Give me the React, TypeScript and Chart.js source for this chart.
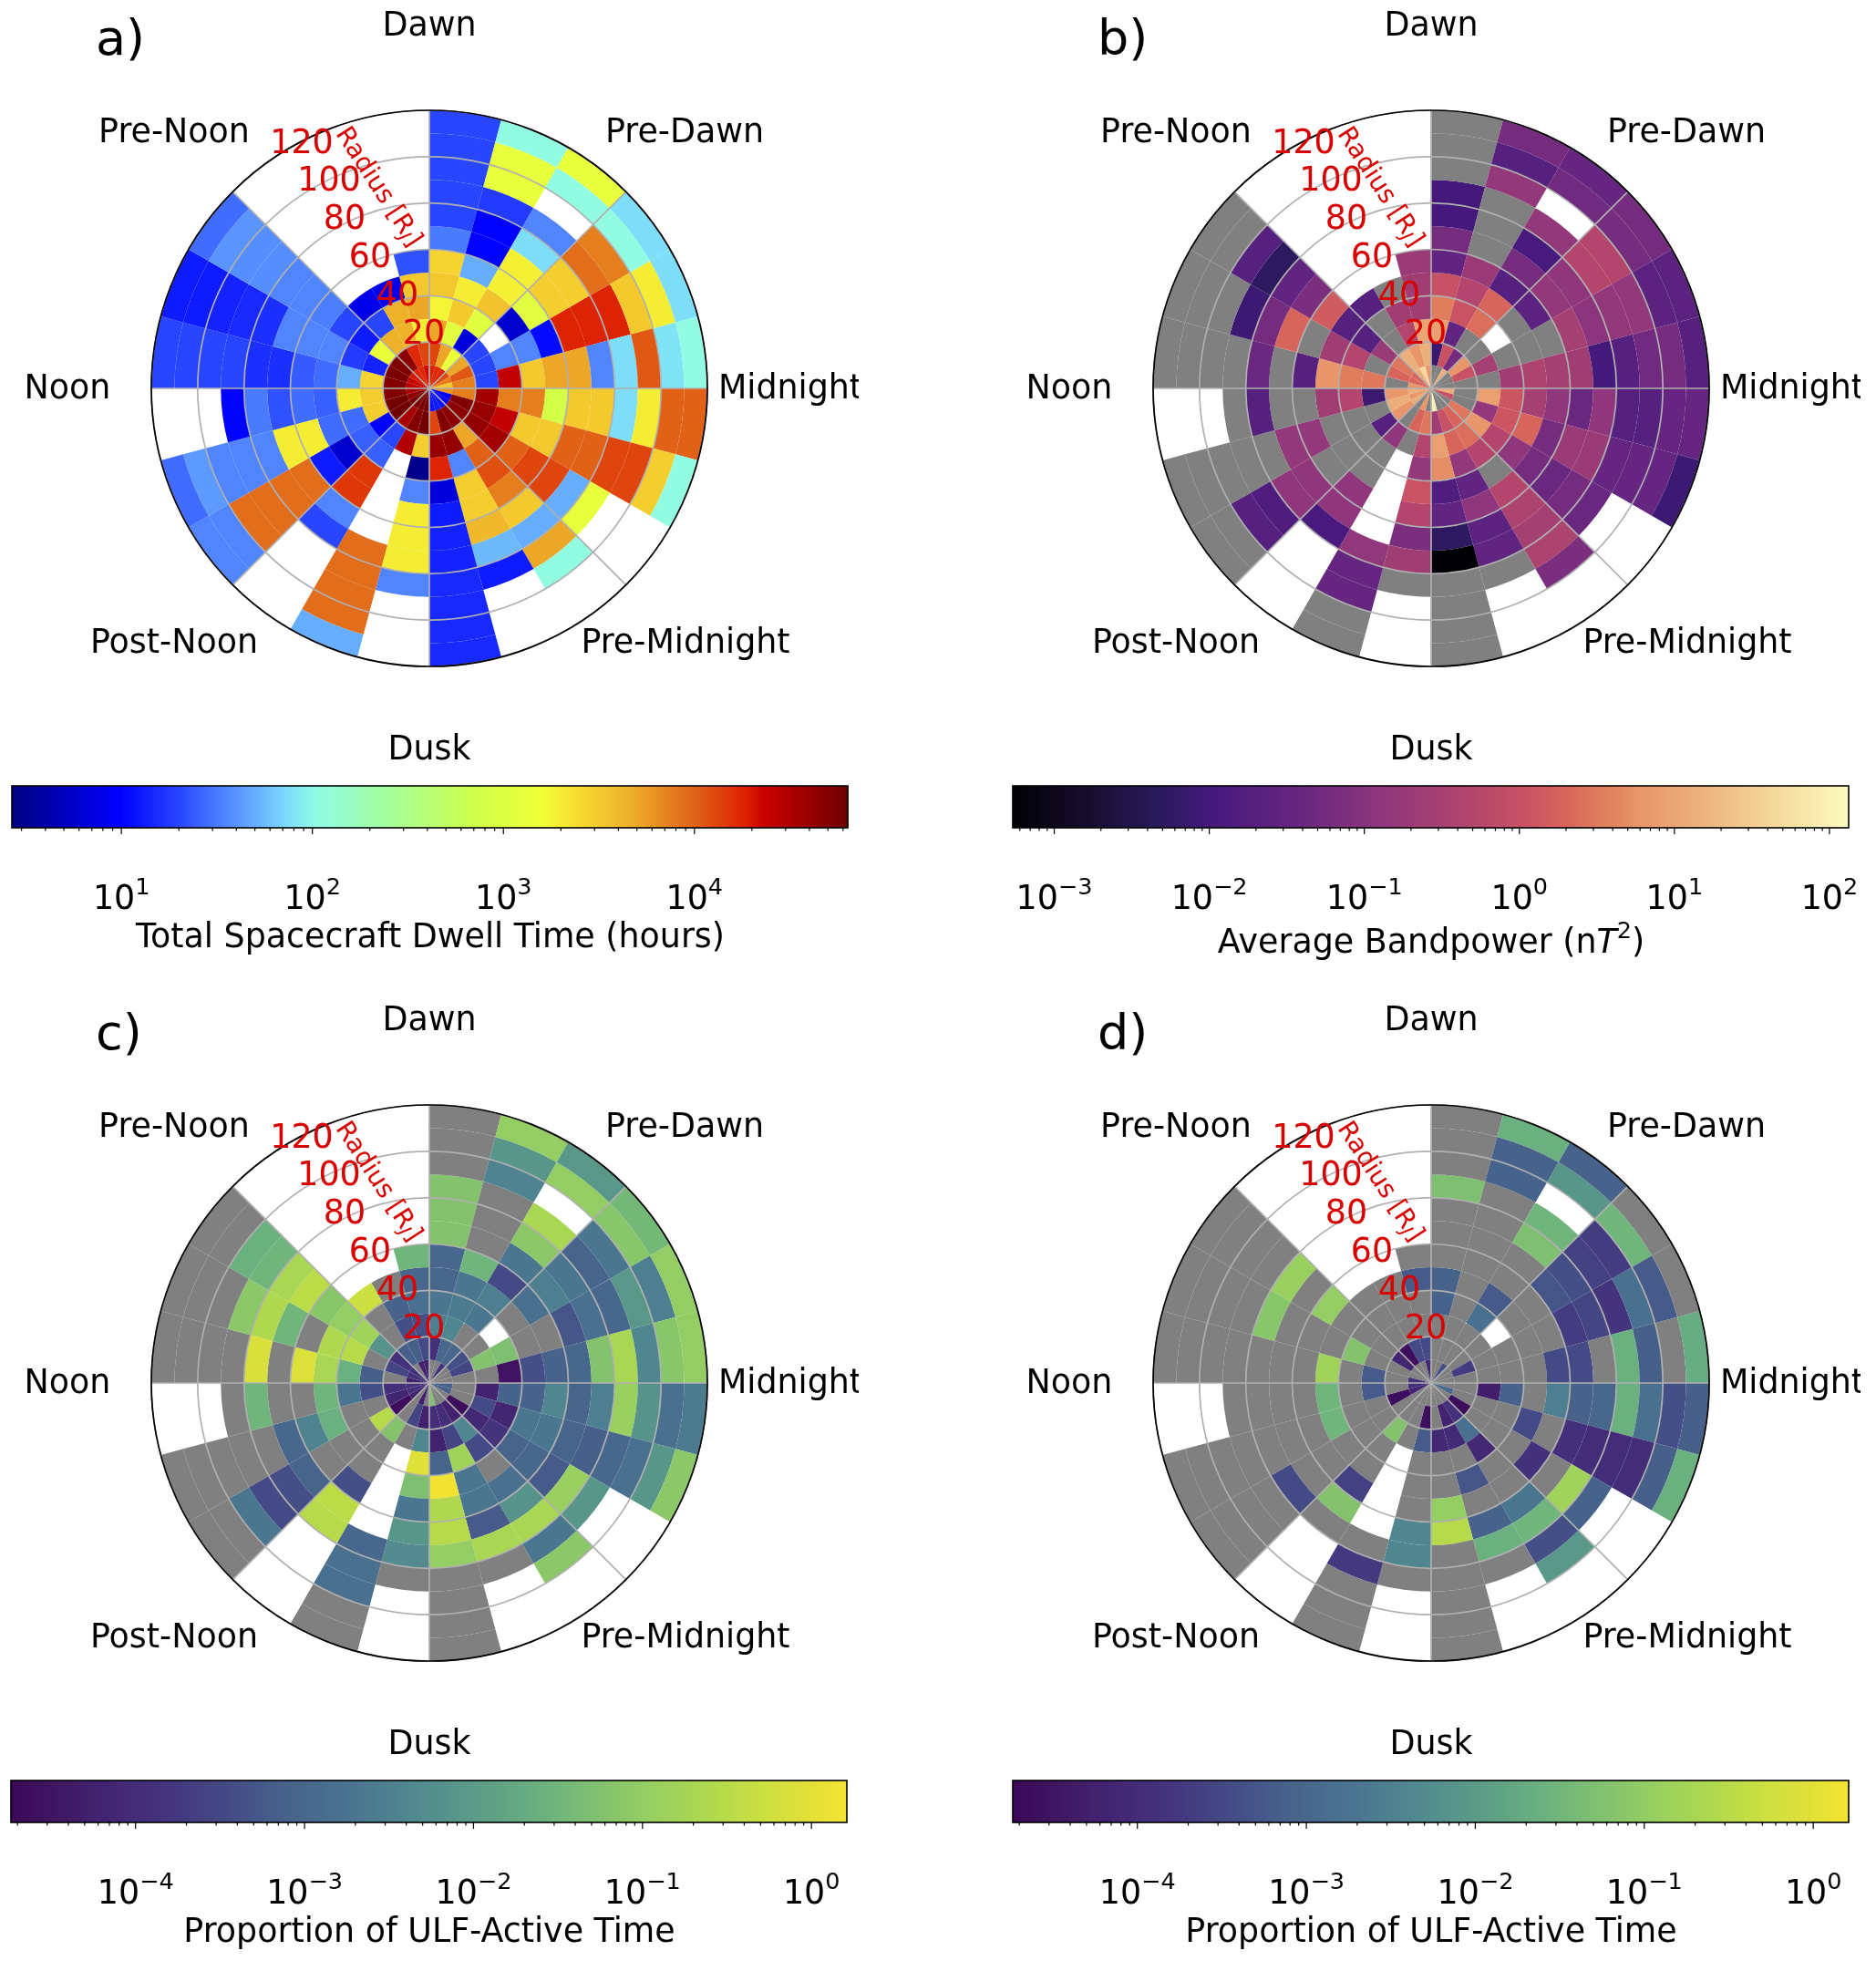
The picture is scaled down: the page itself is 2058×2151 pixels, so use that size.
import React, { useEffect, useRef } from 'react';
import { Chart, registerables } from 'chart.js';

Chart.register(...registerables);

const n = null; // white cell: no spacecraft data. 0 means data but nothing measured (grey)

// every table: one row per 15 degree sector, clockwise from Midnight; one column per 10 R_J ring, inside out
const dwellTime = [
  [6000, 7500, 35000, 7500, 7500, 800, 3200, 3200, 75, 2000, 10000, 10000],
  [9, 50000, 40000, 25000, 3200, 3200, 10000, 10000, 13000, 13000, 3000, 110],
  [10, 45000, 42000, 35000, 10000, 13000, 13000, 50, 1300, n, n, n],
  [12, 45000, 5000, 10000, 12000, 7500, 3200, 50, 5000, 110, n, n],
  [13, 50000, 42000, 35, 3000, 3000, 4000, 55, 13, n, n, n],
  [12, 13000, 40000, 18000, 7, 13, 14, 14, 15, 15, 15, 15],
  [60000, 60000, 3000, 3, 35, 2000, 2000, 2000, 35, n, n, n],
  [55000, 50000, 30000, n, n, n, n, 9000, 9000, 9000, 9000, 50],
  [55000, 33000, 20, 25, 15000, 15000, 35, 20, n, n, n, n],
  [55000, 60000, 10, 25, 6, 13, 9000, 9000, 9000, 9000, 35, 35],
  [45000, 60000, 3000, 28, 28, 2000, 2000, 35, 35, 35, 42, 28],
  [32000, 50000, 3000, 2000, 25, 28, 22, 32, 10, n, n, n],
  [25000, 50000, 2800, 50, 28, 24, 16, 16, 20, 20, 20, 20],
  [24000, 55000, 14, 18, 35, 35, 35, 16, 15, 14, 13, 13],
  [20000, 50000, 1400, 13, 20, 33, 35, 35, 38, 38, 40, 28],
  [18000, 45000, 4500, 20, 8, n, n, n, n, n, n, n],
  [17000, 17000, 4500, 4500, 8, n, n, n, n, n, n, n],
  [22000, 13000, 2000, 5000, 3300, 22, n, n, n, n, n, n],
  [18000, 13000, 5000, 1800, 3300, 2800, 32, 20, 20, 20, 20, 20],
  [17000, 5000, 1100, 3200, 2000, 50, 10, 10, 18, 1300, 1300, 110],
  [18000, 1400, 7, 1100, 3500, 1900, 1900, 75, 35, n, 110, 1300],
  [13000, 5000, 20, n, 6, 1100, 3000, 3000, 9000, 7500, 110, 75],
  [7500, 11000, 20, 35, 35, 11, 18000, 18000, 18000, 3200, 2000, 75],
  [3200, 7500, 20, 25000, 3200, 5000, 5000, 35, 75, 11000, 80, 110],
];

const bandpower = [
  [14, 0, 8, 1.2, 0.3, 0.13, 0.04, 0.13, 0.02, 0.02, 0.035, 0.035],
  [1.05, 0, 0.15, 1.2, 2, 0.06, 0.2, 0.2, 0.035, 0.035, 0.035, 0.008],
  [0, 3, 6, 0.5, 0.13, 0.06, 0.04, 0.06, 0.04, n, n, n],
  [0, 2, 2.5, 0.5, 0, 0.5, 0.4, 0.3, 0.4, 0.07, n, n],
  [0, 1.05, 2, 0.15, 0.03, 0.13, 0.025, 0.03, 0, n, n, n],
  [100, 0.25, 8, 5, 0.015, 0.03, 0.005, 0.00055, 0, 0, 0, 0],
  [0, 3, 0.5, 0.15, 1.1, 0.5, 0.07, 0.25, 0, n, n, n],
  [6, 2, 0, n, n, n, n, 0.14, 0.035, 0.035, 0, 0],
  [0, 0, 0.13, 0, 0, 0.13, 0.13, 0.012, n, n, n, n],
  [14, 6, 0.02, 0, 0, 0, 0.13, 0.13, 0.015, 0.02, 0, 0],
  [6, 14, 0, 0, 0, 0.15, 0.15, 0, 0, 0, 0, 0],
  [14, 6, 0.0075, 0.5, 0.25, 0, 0, 0.02, 0, n, n, n],
  [6, 0, 3, 3.5, 6, 0.02, 0, 0.04, 0, 0, 0, 0],
  [2, 2, 0, 0.5, 0.25, 0, 2, 0.06, 0.008, 0, 0, 0],
  [2, 3, 0.2, 0.02, 0.02, 1.5, 0.07, 0.03, 0.005, 0.02, 0, 0],
  [14, 14, 0, 0, 0.02, n, n, n, n, n, n, n],
  [44, 6, 0.5, 0.25, 0, n, n, n, n, n, n, n],
  [6, 14, 10, 0.25, 0.25, 0.2, n, n, n, n, n, n],
  [0, 0.0075, 8, 3.5, 1, 0.03, 0.06, 0.01, 0.01, 0, 0, 0],
  [0, 1.05, 0.03, 1.1, 0.5, 0.2, 0, 0, 0, 0.15, 0.02, 0.06],
  [14, 0.06, 0, 2.5, 2, 0.02, 0.06, 0.012, 0.15, n, 0.05, 0.035],
  [0, 6, 0, n, 0, 0.025, 0.15, 0.13, 0.5, 0.5, 0.06, 0.06],
  [0, 1.05, 0.3, 0, 0, 0, 0.3, 0.12, 0.15, 0.15, 0.025, 0.025],
  [0, 0, 0, 0.25, 0.4, 0.3, 0.25, 0.01, 0.02, 0.05, 0.06, 0.02],
];

const activeAll = [
  [7e-4, 0, 6e-5, 8e-4, 8e-4, 4e-3, 9e-4, 3e-3, 0.12, 7e-3, 1.5e-3, 2.5e-3],
  [7e-4, 0, 3.5e-4, 7e-5, 2e-3, 2e-3, 9e-4, 7e-4, 1e-3, 1.5e-3, 8e-3, 0.08],
  [0, 2.3e-5, 8e-5, 1.5e-4, 9e-4, 1e-3, 6e-4, 0.12, 8e-3, n, n, n],
  [0, 5.8e-5, 4e-3, 3.5e-4, 0, 1.5e-3, 7e-3, 0.2, 2e-3, 0.08, n, n],
  [0, 1e-4, 3e-4, 0.15, 2e-3, 2e-3, 6e-4, 0.2, 0, n, n, n],
  [0.054, 1.1e-4, 6e-5, 9e-4, 1.5, 0.25, 0.3, 0.1, 0, 0, 0, 0],
  [0, 5.8e-5, 4e-3, 0.9, 0.05, 2e-3, 8e-3, 5e-3, 0, n, n, n],
  [5.8e-5, 3e-4, 0, n, n, n, n, 1e-3, 1.5e-3, 1.5e-3, 0, 0],
  [0, 0, 0.06, 0, 0, 4e-4, 0.35, 0.3, n, n, n, n],
  [5.8e-5, 2.3e-5, 0.3, 0, 0, 0, 9e-4, 4e-4, 3.5e-4, 2e-3, 0, 0],
  [1.3e-4, 7e-5, 0, 0, 0.024, 3.5e-3, 1e-3, 0, 0, 0, 0, 0],
  [1.3e-4, 1.2e-4, 4e-4, 2e-3, 0.03, 0, 0, 0.03, 0, n, n, n],
  [5.8e-5, 0, 7e-4, 0.024, 0.2, 0.8, 0, 0.75, 0, 0, 0, 0],
  [1.3e-4, 3e-4, 0, 0.3, 0.25, 0, 0.03, 0.25, 0.08, 0, 0, 0],
  [1.3e-4, 1.3e-4, 7e-3, 0.15, 0.1, 0.07, 0.35, 0.2, 0.03, 0.025, 0, 0],
  [0, 7e-4, 0, 0, 0.5, n, n, n, n, n, n, n],
  [5.8e-5, 7e-4, 4e-4, 8e-4, 0, n, n, n, n, n, n, n],
  [5.8e-5, 3.5e-4, 4e-4, 1.5e-3, 1e-3, 0.03, n, n, n, n, n, n],
  [0, 1.2e-4, 3e-3, 2e-3, 1e-3, 1e-3, 0.06, 0.06, 0.06, 0, 0, 0],
  [0, 1e-3, 4e-3, 2.5e-3, 2e-3, 0.03, 0, 0, 0, 3.5e-3, 8e-3, 0.1],
  [1.3e-4, 1e-3, 0, 2e-3, 3e-3, 3.5e-4, 2e-3, 0.08, 0.2, n, 0.1, 9e-3],
  [0, 4e-4, 0, n, 0, 1.5e-3, 3e-3, 2e-3, 9e-4, 2e-3, 0.07, 0.035],
  [0, 3e-4, 0.06, 0.05, 0, 0, 5e-4, 1.5e-3, 1e-3, 9e-3, 3e-3, 0.1],
  [0, 0, 0, 3e-5, 4e-4, 8e-4, 1e-3, 0.06, 0.2, 4e-3, 0.07, 0.1],
];

const activeStrict = [
  [0, 0, 5e-5, 8e-4, 0, 3e-3, 8e-4, 1e-3, 0.025, 1.5e-3, 4e-4, 7e-4],
  [1e-3, 0, 0, 0, 3.5e-4, 0, 1.2e-4, 1e-4, 1e-4, 1e-4, 7e-4, 0.025],
  [0, 2.3e-5, 0, 0, 0, 1.3e-4, 0, 0.15, 8e-4, n, n, n],
  [0, 1.3e-4, 1.5e-3, 8e-5, 0, 0, 2e-3, 0.03, 4e-4, 9e-3, n, n],
  [0, 6e-5, 9e-5, 0, 5e-4, 0, 8e-4, 0.025, 0, n, n, n],
  [0, 0, 8e-5, 0, 0, 0.1, 0.3, 0, 0, 0, 0, 0],
  [0, 2.5e-5, 6e-4, 0, 0, 0, 4e-3, 4e-3, 0, n, n, n],
  [0, 0, 0, n, n, n, n, 0, 1.8e-4, 0, 0, 0],
  [0, 0, 0.06, 0, 0, 2.5e-4, 0.06, 0, n, n, n, n],
  [0, 0, 0, 0, 0, 0, 0, 3.5e-4, 0, 0, 0, 0],
  [6e-5, 2.5e-5, 0, 0, 0.03, 0, 0, 0, 0, 0, 0, 0],
  [1.2e-4, 0, 6e-4, 0, 0.03, 0, 0, 0, 0, n, n, n],
  [1.2e-4, 0, 6e-4, 0, 0.15, 0, 0, 0, 0, 0, 0, 0],
  [0, 0, 0, 0.06, 0, 0, 0, 0.07, 0, 0, 0, 0],
  [0, 7e-5, 0, 0, 0, 0.1, 0, 0.12, 0, 0, 0, 0],
  [0, 2.5e-5, 0, 0, 0, n, n, n, n, n, n, n],
  [0, 3.5e-4, 0, 0, 0, n, n, n, n, n, n, n],
  [8e-5, 3.5e-4, 0, 0, 6e-4, 0, n, n, n, n, n, n],
  [0, 0, 0, 8e-4, 8e-4, 0, 0, 0, 0.05, 0, 0, 0],
  [0, 0, 0, 0, 0, 0, 0, 0, 0, 8e-4, 8e-4, 0.025],
  [4e-4, 0, 0, 1.5e-3, 6e-4, 0, 0, 0.05, 0.03, n, 8e-3, 8e-4],
  [0, 0, 0, n, 0, 0, 5e-4, 4e-4, 2.5e-4, 2e-4, 0.03, 0],
  [0, 2e-4, 0, 0, 0, 0, 2e-4, 3e-4, 1.5e-4, 1.5e-3, 6e-4, 0],
  [0, 0, 0, 0, 0, 3.5e-4, 3.5e-4, 0, 0.025, 7e-4, 0, 0.02],
];

const radialTicks = [20, 40, 60, 80, 100, 120];
const radialMax = 120;
const spokeAngles = [0, 45, 90, 135, 180, 225, 270, 315];

// colour stops: position, r, g, b
const jetStops = [
  [0, 0, 0, 128], [0.13, 0, 0, 255], [0.2, 40, 70, 255], [0.27, 90, 150, 255], [0.33, 125, 220, 250],
  [0.365, 145, 252, 230], [0.45, 165, 255, 155], [0.55, 205, 255, 75], [0.635, 240, 255, 55], [0.67, 248, 225, 50],
  [0.74, 238, 175, 42], [0.81, 225, 105, 25], [0.88, 220, 30, 0], [0.9, 200, 0, 0], [1, 110, 0, 0],
];
const magmaStops = [
  [0, 0, 0, 4], [0.1, 25, 15, 50], [0.17, 40, 25, 90], [0.24, 70, 25, 125], [0.34, 102, 38, 128], [0.44, 142, 54, 124],
  [0.54, 176, 68, 110], [0.61, 200, 82, 100], [0.66, 216, 100, 92], [0.71, 224, 128, 92], [0.75, 232, 150, 106],
  [0.82, 236, 176, 124], [0.91, 245, 216, 156], [1, 252, 250, 190],
];
const viridisStops = [
  [0, 60, 8, 88], [0.1, 66, 34, 110], [0.17, 68, 48, 124], [0.26, 68, 74, 134], [0.32, 70, 96, 138], [0.41, 74, 117, 144],
  [0.47, 80, 133, 144], [0.55, 90, 154, 136], [0.63, 106, 176, 128], [0.7, 128, 192, 112], [0.77, 152, 208, 96],
  [0.85, 181, 218, 74], [0.9, 204, 224, 64], [0.95, 224, 224, 56], [1, 245, 228, 50],
];

const FONT = '"DejaVu Sans"';
const TEXT = `36.4px ${FONT}`;
const SMALL = `25.5px ${FONT}`;
const RED = '#d90000';
const GRID = '#b0b0b0';

function colorAt(stops, f) {
  const t = Math.min(1, Math.max(0, f));
  let i = 0;
  while (i < stops.length - 2 && stops[i + 1][0] < t) i++;
  const a = stops[i];
  const b = stops[i + 1];
  const k = (t - a[0]) / (b[0] - a[0]);
  const c = [1, 2, 3].map((j) => Math.round(a[j] + (b[j] - a[j]) * k));
  return `rgb(${c[0]},${c[1]},${c[2]})`;
}

function cellColor(value, p) {
  if (value === null) return 'rgba(255,255,255,0)';
  if (value === 0) return '#808080';
  return colorAt(p.stops, (Math.log10(value) - Math.log10(p.min)) / (Math.log10(p.max) - Math.log10(p.min)));
}

// text made of pieces in different fonts, centred on cx
function drawRuns(ctx, runs, cx, y) {
  let width = 0;
  runs.forEach((r) => {
    ctx.font = r.font;
    width += ctx.measureText(r.text).width;
  });
  let x = cx - width / 2;
  ctx.textAlign = 'left';
  ctx.textBaseline = 'alphabetic';
  runs.forEach((r) => {
    ctx.font = r.font;
    ctx.fillText(r.text, x, y - (r.dy || 0));
    x += ctx.measureText(r.text).width;
  });
}

const polarOverlay = {
  id: 'polarOverlay',
  afterDraw(chart, _args, opts) {
    const { ctx } = chart;
    const arc = chart.getDatasetMeta(0).data[0];
    const cx = arc.x;
    const cy = arc.y;
    const R = chart.getDatasetMeta(0).controller.outerRadius;
    ctx.save();

    ctx.strokeStyle = GRID;
    ctx.lineWidth = 1.7;
    radialTicks.forEach((t) => {
      ctx.beginPath();
      ctx.arc(cx, cy, (t / radialMax) * R, 0, Math.PI * 2);
      ctx.stroke();
    });
    spokeAngles.forEach((a) => {
      ctx.beginPath();
      ctx.moveTo(cx, cy);
      ctx.lineTo(cx + R * Math.cos((a * Math.PI) / 180), cy + R * Math.sin((a * Math.PI) / 180));
      ctx.stroke();
    });
    ctx.strokeStyle = '#000';
    ctx.beginPath();
    ctx.arc(cx, cy, R, 0, Math.PI * 2);
    ctx.stroke();

    // radial tick labels
    const labelOffsets = [[-6, -58], [-35, -100], [-65, -142], [-93, -184], [-110, -226], [-140, -267]];
    ctx.fillStyle = RED;
    ctx.font = TEXT;
    ctx.textAlign = 'center';
    ctx.textBaseline = 'middle';
    radialTicks.forEach((t, i) => {
      ctx.fillText(String(t), cx + labelOffsets[i][0], cy + labelOffsets[i][1]);
    });

    ctx.save();
    ctx.translate(cx - 54, cy - 222);
    ctx.rotate((57 * Math.PI) / 180);
    drawRuns(
      ctx,
      [
        { text: 'Radius [R', font: `28px ${FONT}` },
        { text: 'J', font: `italic 20px ${FONT}`, dy: -4 },
        { text: ']', font: `28px ${FONT}` },
      ],
      0,
      10,
    );
    ctx.restore();

    // sector names
    const names = [
      ['Dawn', 0, -396],
      ['Pre-Noon', -280, -279],
      ['Pre-Dawn', 280, -279],
      ['Noon', -397, 2],
      ['Midnight', 396, 2],
      ['Post-Noon', -280, 281],
      ['Pre-Midnight', 281, 281],
      ['Dusk', 0, 398],
    ];
    ctx.fillStyle = '#000';
    ctx.font = TEXT;
    ctx.textAlign = 'center';
    ctx.textBaseline = 'middle';
    names.forEach(([text, dx, dy]) => ctx.fillText(text, cx + dx, cy + dy));

    ctx.font = `54px ${FONT}`;
    ctx.textAlign = 'left';
    ctx.textBaseline = 'alphabetic';
    ctx.fillText(opts.title, cx - 366, cy - 366);
    ctx.restore();
  },
};

function PolarPanel({ left, top, panel }) {
  const ref = useRef(null);

  useEffect(() => {
    // doughnut draws its first dataset as the outer ring
    const ringIndexes = panel.values[0].map((_, i) => i).reverse();
    const chart = new Chart(ref.current, {
      type: 'doughnut',
      data: {
        labels: panel.values.map((_, k) => `${k * 15}`),
        datasets: ringIndexes.map((ring) => ({
          data: panel.values.map(() => 1),
          backgroundColor: panel.values.map((row) => cellColor(row[ring], panel)),
          borderWidth: 0,
          hoverOffset: 0,
          offset: 0,
        })),
      },
      options: {
        responsive: false,
        animation: false,
        events: [],
        rotation: 90,
        cutout: 0,
        layout: { padding: { left: 166, right: 166, top: 121, bottom: 121 } },
        plugins: { legend: { display: false }, tooltip: { enabled: false }, polarOverlay: { title: panel.title } },
      },
      plugins: [polarOverlay],
    });
    return () => chart.destroy();
  }, [panel]);

  return <canvas ref={ref} width={942} height={852} style={{ position: 'absolute', left, top }} />;
}

const colorbarDraw = {
  id: 'colorbarDraw',
  beforeDraw(chart, _args, opts) {
    const { ctx, chartArea: area } = chart;
    const x = chart.scales.x;
    const { panel } = opts;
    ctx.save();
    for (let px = Math.floor(area.left); px < area.right; px++) {
      const v = x.getValueForPixel(px + 0.5);
      ctx.fillStyle = cellColor(v, panel);
      ctx.fillRect(px, area.top, 1.5, area.bottom - area.top);
    }
    ctx.strokeStyle = '#000';
    ctx.lineWidth = 1.6;
    ctx.strokeRect(area.left, area.top, area.right - area.left, area.bottom - area.top);

    ctx.lineWidth = 1.2;
    ctx.fillStyle = '#000';
    for (let d = Math.floor(Math.log10(panel.min)); d <= Math.ceil(Math.log10(panel.max)); d++) {
      for (let m = 1; m < 10; m++) {
        const v = m * Math.pow(10, d);
        if (v < panel.min || v > panel.max) continue;
        const p = x.getPixelForValue(v);
        ctx.beginPath();
        ctx.moveTo(p, area.bottom);
        ctx.lineTo(p, area.bottom + (m === 1 ? 7 : 3.5));
        ctx.stroke();
        if (m === 1) {
          const exp = d < 0 ? `\u2212${-d}` : `${d}`;
          drawRuns(
            ctx,
            [
              { text: '10', font: TEXT },
              { text: exp, font: SMALL, dy: 16 },
            ],
            p,
            area.top + 135,
          );
        }
      }
    }
    drawRuns(ctx, panel.label, area.left + (area.right - area.left) / 2 + 0.5, area.top + panel.labelY);
    ctx.restore();
  },
};

function ColorBar({ left, top, panel }) {
  const ref = useRef(null);

  useEffect(() => {
    const chart = new Chart(ref.current, {
      type: 'scatter',
      data: { datasets: [{ data: [] }] },
      options: {
        responsive: false,
        animation: false,
        events: [],
        layout: { padding: { left: 12, right: 12, top: 10, bottom: 152 } },
        scales: {
          x: { type: 'logarithmic', min: panel.min, max: panel.max, bounds: 'data', display: false },
          y: { display: false },
        },
        plugins: { legend: { display: false }, tooltip: { enabled: false }, colorbarDraw: { panel } },
      },
      plugins: [colorbarDraw],
    });
    return () => chart.destroy();
  }, [panel]);

  return <canvas ref={ref} width={941} height={208} style={{ position: 'absolute', left, top }} />;
}

const dwellPanel = {
  title: 'a)',
  values: dwellTime,
  stops: jetStops,
  min: 2.67,
  max: 63500,
  labelY: 177,
  label: [{ text: 'Total Spacecraft Dwell Time (hours)', font: TEXT }],
};
const bandPanel = {
  title: 'b)',
  values: bandpower,
  stops: magmaStops,
  min: 0.00054,
  max: 133,
  labelY: 183,
  label: [
    { text: 'Average Bandpower (n', font: TEXT },
    { text: 'T', font: `italic ${TEXT}` },
    { text: '2', font: SMALL, dy: 16 },
    { text: ')', font: TEXT },
  ],
};
const activeAllPanel = {
  title: 'c)',
  values: activeAll,
  stops: viridisStops,
  min: 1.83e-5,
  max: 1.62,
  labelY: 177,
  label: [{ text: 'Proportion of ULF-Active Time', font: TEXT }],
};
const activeStrictPanel = { ...activeAllPanel, title: 'd)', values: activeStrict };

export default function App() {
  return (
    <div style={{ position: 'absolute', left: 0, top: 0, width: 2058, height: 2151, background: '#fff', overflow: 'hidden' }}>
      <PolarPanel left={0} top={0} panel={dwellPanel} />
      <PolarPanel left={1099} top={0} panel={bandPanel} />
      <PolarPanel left={0} top={1091} panel={activeAllPanel} />
      <PolarPanel left={1099} top={1091} panel={activeStrictPanel} />
      <ColorBar left={1} top={852} panel={dwellPanel} />
      <ColorBar left={1099} top={852} panel={bandPanel} />
      <ColorBar left={0} top={1943} panel={activeAllPanel} />
      <ColorBar left={1099} top={1943} panel={activeStrictPanel} />
    </div>
  );
}
